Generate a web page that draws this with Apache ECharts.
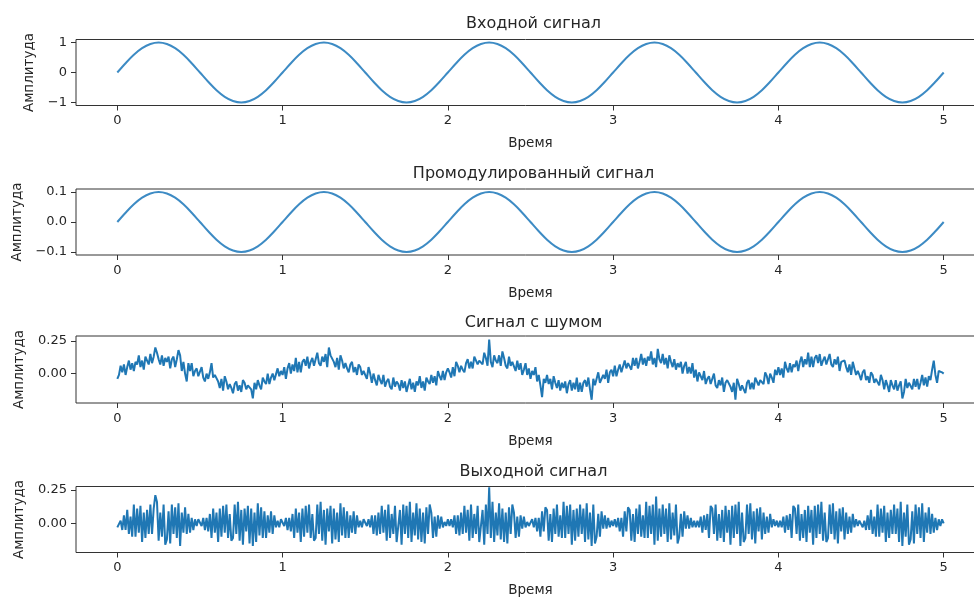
<!DOCTYPE html>
<html>
<head>
<meta charset="utf-8">
<script src="https://cdn.jsdelivr.net/npm/echarts@6/dist/echarts.min.js"></script>
<style>html,body{margin:0;padding:0;background:#fff;overflow:hidden}#c{width:974px;height:598px}</style>
</head>
<body>
<div id="c"></div>
<script>
// ---- data ----
const titles = ['Входной сигнал', 'Промодулированный сигнал', 'Сигнал с шумом', 'Выходной сигнал'];
const xTicks = [0, 1, 2, 3, 4, 5];
const yTicks1 = [-1, 0, 1];
const yTicks2 = [-0.1, 0, 0.1];
const yTicks3 = [0, 0.25];
const yTicks4 = [0, 0.25];
const stepSine = 0.05;
const stepNoise = 0.01;

const inputSignal = [
 0, 0.31, 0.59, 0.81, 0.95, 1, 0.95, 0.81, 0.59, 0.31, 0, -0.31, -0.59, -0.81, -0.95, -1, -0.95, -0.81, -0.59, -0.31,
 0, 0.31, 0.59, 0.81, 0.95, 1, 0.95, 0.81, 0.59, 0.31, 0, -0.31, -0.59, -0.81, -0.95, -1, -0.95, -0.81, -0.59, -0.31,
 0, 0.31, 0.59, 0.81, 0.95, 1, 0.95, 0.81, 0.59, 0.31, 0, -0.31, -0.59, -0.81, -0.95, -1, -0.95, -0.81, -0.59, -0.31,
 0, 0.31, 0.59, 0.81, 0.95, 1, 0.95, 0.81, 0.59, 0.31, 0, -0.31, -0.59, -0.81, -0.95, -1, -0.95, -0.81, -0.59, -0.31,
 0, 0.31, 0.59, 0.81, 0.95, 1, 0.95, 0.81, 0.59, 0.31, 0, -0.31, -0.59, -0.81, -0.95, -1, -0.95, -0.81, -0.59, -0.31,
 0
];
const modulatedSignal = [
 0, 0.031, 0.059, 0.081, 0.095, 0.1, 0.095, 0.081, 0.059, 0.031, 0, -0.031, -0.059, -0.081, -0.095, -0.1, -0.095, -0.081, -0.059, -0.031,
 0, 0.031, 0.059, 0.081, 0.095, 0.1, 0.095, 0.081, 0.059, 0.031, 0, -0.031, -0.059, -0.081, -0.095, -0.1, -0.095, -0.081, -0.059, -0.031,
 0, 0.031, 0.059, 0.081, 0.095, 0.1, 0.095, 0.081, 0.059, 0.031, 0, -0.031, -0.059, -0.081, -0.095, -0.1, -0.095, -0.081, -0.059, -0.031,
 0, 0.031, 0.059, 0.081, 0.095, 0.1, 0.095, 0.081, 0.059, 0.031, 0, -0.031, -0.059, -0.081, -0.095, -0.1, -0.095, -0.081, -0.059, -0.031,
 0, 0.031, 0.059, 0.081, 0.095, 0.1, 0.095, 0.081, 0.059, 0.031, 0, -0.031, -0.059, -0.081, -0.095, -0.1, -0.095, -0.081, -0.059, -0.031,
 0
];
// noisy signal, one row per 0.1 s (10 samples of 0.01 s)
const noisySignal = [
 -0.04, -0.01, 0.06, 0.01, 0.07, -0.01, 0.05, 0.1, 0.03, 0.08,
 0.02, 0.09, 0.07, 0.14, 0.05, 0.1, 0.03, 0.13, 0.1, 0.07,
 0.15, 0.08, 0.13, 0.2, 0.16, 0.11, 0.07, 0.14, 0.06, 0.12,
 0.09, 0.13, 0.04, 0.11, 0.13, 0.05, 0.11, 0.18, 0.14, 0.02,
 0.09, 0, -0.06, 0.08, 0.02, 0.08, -0.02, 0.02, 0.04, -0.02,
 -0.03, 0.05, -0.03, -0.06, 0, -0.04, 0.01, 0.08, -0.03, -0.01,
 -0.02, -0.06, -0.11, -0.04, -0.13, -0.02, -0.06, -0.12, -0.08, -0.11,
 -0.15, -0.08, -0.06, -0.13, -0.09, -0.14, -0.05, -0.07, -0.12, -0.09,
 -0.09, -0.12, -0.19, -0.07, -0.12, -0.05, -0.09, -0.12, -0.03, -0.06,
 -0.08, 0, -0.08, -0.03, 0, -0.05, -0.06, 0.04, -0.02, 0.02,
 -0.01, 0.05, -0.04, 0.04, 0.08, 0, 0.07, 0.02, 0.12, 0.01,
 0.09, 0.01, 0.09, 0.11, 0.06, 0.13, 0.04, 0.09, 0.12, 0.06,
 0.07, 0.16, 0.08, 0.06, 0.13, 0.09, 0.15, 0.05, 0.2, 0.14,
 0.14, 0.09, 0.05, 0.12, 0.03, 0.14, 0.1, 0.04, 0.08, 0.04,
 0.01, 0.07, 0.09, 0.01, 0.05, -0.01, 0.07, 0.05, -0.01, 0.02,
 0.01, -0.04, 0.05, 0, -0.07, 0, -0.05, -0.09, -0.01, -0.05,
 -0.08, -0.01, -0.1, -0.06, -0.04, -0.1, -0.12, -0.03, -0.1, -0.06,
 -0.08, -0.13, -0.05, -0.11, -0.06, -0.14, -0.09, -0.04, -0.12, -0.07,
 -0.14, -0.06, -0.09, -0.02, -0.11, -0.06, -0.13, -0.03, -0.06, -0.08,
 -0.01, -0.07, -0.02, -0.09, 0.02, -0.02, -0.05, 0.02, -0.05, 0.01,
 0.04, 0.01, -0.03, 0.05, -0.02, 0.09, 0.06, 0.01, 0.06, 0.03,
 0.01, 0.08, 0.11, 0.04, 0.09, 0.04, 0.13, 0.12, 0.07, 0.1,
 0.11, 0.07, 0.16, 0.12, 0.06, 0.26, 0.09, 0.05, 0.14, 0.1,
 0.08, 0.14, 0.06, 0.17, 0.12, 0.06, 0.04, 0.13, 0.06, 0.09,
 0.08, 0.02, 0.1, 0.03, 0.08, -0.01, 0.03, 0.08, -0.01, 0.04,
 -0.04, 0.02, -0.01, 0.05, -0.06, -0.01, -0.09, -0.18, -0.04, -0.07,
 -0.01, -0.08, -0.04, -0.12, -0.02, -0.07, -0.11, -0.05, -0.13, -0.07,
 -0.11, -0.06, -0.15, -0.08, -0.05, -0.13, -0.07, -0.12, -0.03, -0.14,
 -0.07, -0.14, -0.07, -0.05, -0.1, -0.03, -0.12, -0.2, -0.04, -0.09,
 -0.09, 0.01, -0.07, -0.08, -0.01, -0.04, 0.03, -0.07, 0.01, 0.03,
 -0.02, 0.06, -0.02, 0.03, 0.07, 0.01, 0, 0.1, 0.04, 0.08,
 0.08, 0.03, 0.12, 0.06, 0.12, 0.04, 0.09, 0.15, 0.07, 0.12,
 0.06, 0.13, 0.1, 0.17, 0.07, 0.12, 0.05, 0.19, 0.11, 0.08,
 0.15, 0.07, 0.12, 0.04, 0.14, 0.09, 0.05, 0.11, 0.03, 0.08,
 0.05, 0.09, 0, 0.06, 0.09, 0, 0.05, 0, 0.08, -0.03,
 0.03, -0.06, 0.01, 0.02, -0.05, 0.02, -0.08, -0.04, -0.02, -0.08,
 -0.09, 0, -0.09, -0.11, -0.05, -0.09, -0.03, -0.14, -0.07, -0.05,
 -0.06, -0.1, -0.14, -0.07, -0.2, -0.04, -0.08, -0.13, -0.09, -0.12,
 -0.15, -0.07, -0.05, -0.12, -0.07, -0.12, -0.03, -0.04, -0.09, -0.05,
 -0.05, -0.08, 0.01, -0.02, -0.08, 0, -0.03, -0.07, 0.03, -0.01,
 0.05, -0.01, 0.04, -0.03, 0.09, 0.04, 0.01, 0.08, 0.01, 0.07,
 0.05, 0.1, 0.02, 0.09, 0.13, 0.05, 0.11, 0.07, 0.16, 0.05,
 0.13, 0.05, 0.12, 0.14, 0.08, 0.15, 0.06, 0.1, 0.13, 0.07,
 0.07, 0.15, 0.07, 0.05, 0.11, 0.07, 0.13, 0.02, 0.09, 0.1,
 0.1, 0.05, 0.01, 0.07, -0.01, 0.09, 0.04, -0.01, 0.02, -0.01,
 -0.05, 0.01, 0.03, -0.05, -0.02, -0.07, 0.01, -0.01, -0.07, -0.04,
 -0.05, -0.09, -0.01, -0.05, -0.12, -0.05, -0.09, -0.14, -0.05, -0.09,
 -0.12, -0.05, -0.13, -0.09, -0.06, -0.19, -0.14, -0.04, -0.11, -0.07,
 -0.08, -0.12, -0.04, -0.1, -0.04, -0.12, -0.07, -0.01, -0.09, -0.03,
 -0.1, -0.02, -0.05, 0.03, 0.1, -0.01, -0.07, 0.02, 0.03, 0.01,
 0.0
];
// output signal, one row per 0.1 s
const outputSignal = [
 -0.03, -0.03, 0.02, -0.05, 0.06, -0.05, 0.1, -0.08, 0.05, -0.1,
 0.14, -0.1, 0.11, -0.07, 0.13, -0.14, 0.08, -0.11, 0.1, -0.08,
 0.14, -0.08, 0.11, 0.21, 0.16, -0.13, 0.08, -0.1, 0.14, -0.16,
 -0.12, 0.09, -0.15, 0.14, -0.08, 0.12, -0.11, 0.15, -0.17, 0.08,
 -0.07, 0.12, -0.08, 0.07, -0.07, 0.04, -0.05, 0.03, -0.02, 0.03,
 0.02, -0.02, 0.04, -0.05, 0.04, -0.06, 0.07, -0.11, 0.11, -0.07,
 0.08, -0.14, 0.11, -0.1, 0.13, -0.07, 0.14, -0.11, 0.07, -0.13,
 -0.11, 0.14, -0.08, 0.16, -0.13, 0.1, -0.16, 0.11, -0.06, 0.13,
 -0.15, 0.11, -0.17, 0.08, -0.14, 0.15, -0.09, 0.12, -0.11, 0.09,
 -0.11, 0.06, -0.07, 0.09, -0.08, 0.06, -0.03, 0.02, -0.03, 0.03,
 0.02, -0.02, 0.04, -0.05, 0.04, -0.06, 0.07, -0.11, 0.11, -0.07,
 0.08, -0.14, 0.11, -0.1, 0.13, -0.07, 0.14, -0.11, 0.07, -0.13,
 -0.11, 0.14, -0.08, 0.16, -0.13, 0.1, -0.16, 0.11, -0.06, 0.13,
 -0.15, 0.11, -0.12, 0.08, -0.14, 0.15, -0.09, 0.12, -0.11, 0.09,
 -0.11, 0.06, -0.07, 0.09, -0.08, 0.06, -0.03, 0.02, -0.03, 0.03,
 0.03, -0.02, 0.03, -0.03, 0.06, -0.08, 0.06, -0.09, 0.08, -0.08,
 0.13, -0.07, 0.1, -0.13, 0.14, -0.11, 0.07, -0.08, 0.13, -0.14,
 -0.13, 0.1, -0.16, 0.14, -0.08, 0.13, -0.11, 0.16, -0.14, 0.08,
 -0.09, 0.15, -0.12, 0.11, -0.14, 0.08, -0.15, 0.12, -0.08, 0.14,
 0.08, -0.11, 0.05, -0.1, 0.06, -0.04, 0.05, -0.03, 0.01, -0.02,
 0.03, -0.02, 0.03, -0.03, 0.06, -0.08, 0.06, -0.09, 0.08, -0.08,
 0.13, -0.07, 0.1, -0.13, 0.14, -0.11, 0.07, -0.08, 0.13, -0.14,
 -0.13, 0.1, -0.16, 0.14, -0.08, 0.27, -0.11, 0.16, -0.14, 0.08,
 -0.09, 0.15, -0.12, 0.11, -0.14, 0.08, -0.15, 0.12, -0.08, 0.14,
 0.08, -0.11, 0.05, -0.1, 0.06, -0.04, 0.05, -0.03, 0.01, -0.02,
 -0.02, 0.03, -0.03, 0.04, -0.06, 0.04, -0.1, 0.09, -0.06, 0.12,
 0.1, -0.13, 0.07, -0.14, 0.11, -0.08, 0.14, -0.1, 0.06, -0.11,
 0.16, -0.11, 0.13, -0.08, 0.14, -0.16, 0.1, -0.13, 0.11, -0.1,
 0.14, -0.08, 0.11, -0.14, 0.15, -0.12, 0.08, -0.17, 0.14, -0.15,
 -0.1, 0.07, -0.1, 0.09, -0.04, 0.06, -0.04, 0.04, -0.03, 0.02,
 -0.02, 0.03, -0.03, 0.04, -0.06, 0.04, -0.1, 0.09, -0.06, 0.12,
 0.1, -0.13, 0.07, -0.14, 0.11, -0.08, 0.14, -0.1, 0.06, -0.11,
 0.16, -0.11, 0.13, -0.08, 0.14, -0.16, 0.2, -0.13, 0.11, -0.1,
 0.14, -0.08, 0.11, -0.14, 0.15, -0.12, 0.08, -0.09, 0.14, -0.15,
 -0.1, 0.07, -0.1, 0.09, -0.04, 0.06, -0.04, 0.04, -0.03, 0.02,
 -0.03, 0.02, -0.03, 0.05, -0.07, 0.06, -0.05, 0.07, -0.11, 0.13,
 0.11, -0.08, 0.14, -0.13, 0.07, -0.11, 0.1, -0.14, 0.13, -0.07,
 0.1, -0.16, 0.13, -0.11, 0.14, -0.08, 0.16, -0.17, 0.08, -0.14,
 -0.11, 0.14, -0.08, 0.15, -0.12, 0.09, -0.15, 0.11, -0.06, 0.12,
 -0.12, 0.08, -0.08, 0.05, -0.07, 0.07, -0.03, 0.03, -0.02, 0.02,
 -0.03, 0.02, -0.03, 0.05, -0.07, 0.06, -0.05, 0.07, -0.11, 0.13,
 0.11, -0.08, 0.14, -0.13, 0.07, -0.11, 0.1, -0.14, 0.13, -0.07,
 0.1, -0.16, 0.13, -0.11, 0.14, -0.08, 0.16, -0.13, 0.08, -0.14,
 -0.11, 0.14, -0.08, 0.15, -0.12, 0.09, -0.15, 0.11, -0.06, 0.12,
 -0.12, 0.08, -0.08, 0.05, -0.07, 0.07, -0.03, 0.03, -0.02, 0.02,
 0.02, -0.03, 0.02, -0.05, 0.06, -0.05, 0.1, -0.08, 0.05, -0.1,
 0.14, -0.1, 0.11, -0.07, 0.13, -0.14, 0.08, -0.11, 0.1, -0.08,
 0.14, -0.08, 0.11, -0.14, 0.16, -0.17, 0.08, -0.1, 0.14, -0.16,
 -0.12, 0.09, -0.15, 0.14, -0.08, 0.12, -0.11, 0.15, -0.14, 0.08,
 -0.07, 0.12, -0.08, 0.07, -0.07, 0.04, -0.05, 0.03, -0.02, 0.03,
 0.0
];

// ---- chart ----
const FONT = 'DejaVu Sans';
const TXT = '#262626';
const FRAME = '#333';
const LEFT = 76, WIDTH = 909;
const grids = [
  {top: 39.5, height: 66},
  {top: 189, height: 66},
  {top: 336, height: 67},
  {top: 486.5, height: 66}
];
const yRanges = [[-1.1, 1.1], [-0.11, 0.11], [-0.225, 0.288], [-0.218, 0.275]];
const yTickSets = [yTicks1, yTicks2, yTicks3, yTicks4];
const yDigits = [0, 1, 2, 2];
const titleTops = [11, 161, 310, 459];
const yNameGaps = [37, 50, 50, 50];

function pairs(arr, step) { return arr.map((v, i) => [+(i * step).toFixed(4), v]); }
const seriesData = [
  pairs(inputSignal, stepSine),
  pairs(modulatedSignal, stepSine),
  pairs(noisySignal, stepNoise),
  pairs(outputSignal, stepNoise)
];

const option = {
  animation: false,
  backgroundColor: '#fff',
  title: titles.map((t, i) => ({
    text: t, left: LEFT + WIDTH / 2 - 2, textAlign: 'center', top: titleTops[i],
    textStyle: {fontFamily: FONT, fontSize: 16, fontWeight: 'normal', color: TXT}
  })),
  grid: grids.map(g => ({left: LEFT, width: WIDTH, top: g.top, height: g.height, show: true, borderColor: FRAME, borderWidth: 1,
    backgroundColor: 'transparent', containLabel: false, outerBoundsMode: 'none'})),
  xAxis: grids.map((g, i) => ({
    type: 'value', gridIndex: i, min: -0.25, max: 5.25,
    name: 'Время', nameLocation: 'middle', nameGap: 31,
    nameTextStyle: {fontFamily: FONT, fontSize: 13.5, color: TXT},
    axisLine: {show: false, onZero: false},
    axisTick: {show: true, length: 5, lineStyle: {color: FRAME}, customValues: xTicks},
    axisLabel: {show: true, margin: 9, fontFamily: FONT, fontSize: 13, color: TXT, customValues: xTicks, formatter: v => String(v)},
    splitLine: {show: false}
  })),
  yAxis: grids.map((g, i) => ({
    type: 'value', gridIndex: i, min: yRanges[i][0], max: yRanges[i][1],
    name: 'Амплитуда', nameLocation: 'middle', nameGap: yNameGaps[i], nameRotate: 90,
    nameTextStyle: {fontFamily: FONT, fontSize: 13.5, color: TXT},
    axisLine: {show: false, onZero: false},
    axisTick: {show: true, length: 5, lineStyle: {color: FRAME}, customValues: yTickSets[i]},
    axisLabel: {show: true, margin: 9, fontFamily: FONT, fontSize: 13, color: TXT, customValues: yTickSets[i],
      formatter: v => (Math.abs(v) < 1e-9 ? 0 : v).toFixed(yDigits[i]).replace('-', '\u2212')},
    splitLine: {show: false}
  })),
  series: seriesData.map((d, i) => ({
    type: 'line', xAxisIndex: i, yAxisIndex: i, data: d, showSymbol: false,
    smooth: i < 2 ? 0.35 : false,
    clip: true,
    lineStyle: {color: i < 2 ? '#3d8bc4' : '#1f77b4', width: i < 2 ? 2 : 2},
    itemStyle: {color: '#1f77b4'}
  }))
};
echarts.init(document.getElementById('c'), null, {renderer: 'canvas'}).setOption(option);
</script>
</body>
</html>
